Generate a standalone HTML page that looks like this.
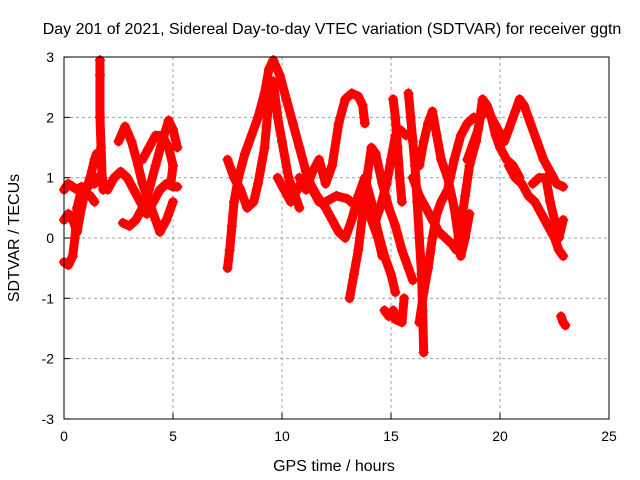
<!DOCTYPE html>
<html><head><meta charset="utf-8"><style>
body{margin:0;background:#fff;}
svg{display:block;font-family:"Liberation Sans",sans-serif;}
</style></head><body>
<svg id="chart" width="640" height="480" viewBox="0 0 640 480">
<text x="332" y="34" font-size="16" text-anchor="middle">Day 201 of 2021, Sidereal Day-to-day VTEC variation (SDTVAR) for receiver ggtn</text>
<text x="334" y="471" font-size="16" text-anchor="middle">GPS time / hours</text>
<text transform="translate(19,238) rotate(-90)" font-size="16" text-anchor="middle">SDTVAR / TECUs</text>
<g id="grid"></g><g id="ticks"></g><g id="marks"></g>
<rect x="64" y="57" width="545" height="362" fill="none" stroke="#000" stroke-width="1"/>
</svg>
<script>
const xTicks=[0,5,10,15,20,25];
const yTicks=[-3,-2,-1,0,1,2,3];
const traces=[
[[0,-0.4],[0.2,-0.45],[0.4,-0.3],[0.5,0],[0.6,0.5],[0.8,0.8],[1.0,0.8],[1.2,0.9],[1.4,0.9],[1.5,1.0]],
[[0,0.3],[0.2,0.4],[0.4,0.3],[0.6,0.1],[0.8,0.5],[1.0,0.8],[1.2,1.0],[1.4,1.3],[1.5,1.4]],
[[0,0.8],[0.2,0.9],[0.4,0.85],[0.6,0.8],[0.8,0.85],[1.0,0.75],[1.2,0.7],[1.4,0.6]],
[[1.65,2.95],[1.65,2.7],[1.65,2.0],[1.7,1.5],[1.75,1.0],[1.8,0.8]],
[[1.7,1.0],[2.0,0.8],[2.3,1.0],[2.6,1.1],[2.9,1.0],[3.2,0.8],[3.5,0.6],[3.8,0.4],[4.1,0.6],[4.4,0.8],[4.7,0.9],[5.0,0.85],[5.2,0.85]],
[[2.5,1.6],[2.8,1.85],[3.1,1.6],[3.4,1.2],[3.6,0.9],[3.9,0.6],[4.2,0.3],[4.4,0.1],[4.7,0.3],[5.0,0.6]],
[[2.7,0.25],[3.0,0.2],[3.3,0.3],[3.6,0.5],[3.9,0.8],[4.2,1.2],[4.5,1.6],[4.8,1.95],[5.0,1.8],[5.2,1.5]],
[[3.6,1.3],[3.9,1.5],[4.2,1.7],[4.5,1.7],[4.8,1.5],[5.0,1.2],[4.9,0.9]],
[[7.5,-0.5],[7.6,-0.2],[7.7,0.2],[7.8,0.6],[8.0,1.0],[8.3,1.4],[8.6,1.7],[8.9,2.0],[9.2,2.4],[9.4,2.8],[9.6,2.95],[9.9,2.7],[10.2,2.3],[10.5,1.9],[10.8,1.5],[11.1,1.1],[11.4,0.8],[11.7,0.6]],
[[7.5,1.3],[7.8,1.0],[8.1,0.8],[8.4,0.5],[8.7,0.6],[8.9,0.9],[9.2,1.5],[9.4,2.3],[9.6,2.6],[9.8,2.0],[10.0,1.6],[10.3,1.0],[10.6,0.7],[10.8,0.5]],
[[10.8,1.0],[11.1,0.8],[11.4,1.1],[11.7,1.3],[12.0,0.9],[12.3,1.2],[12.6,1.9],[12.9,2.3],[13.2,2.4],[13.5,2.35],[13.7,2.2],[13.8,1.9]],
[[9.8,1.0],[10.1,0.8],[10.4,0.6],[10.7,0.8],[11.0,1.0],[11.3,0.9],[11.6,0.7],[12.0,0.5],[12.3,0.3],[12.6,0.1],[12.9,0.0],[13.2,0.3],[13.5,0.7],[13.8,1.0],[14.1,0.6],[14.4,0.1],[14.7,-0.3],[15.0,-0.6],[15.2,-0.9]],
[[13.1,-1.0],[13.3,-0.6],[13.5,-0.2],[13.7,0.4],[13.9,1.0],[14.1,1.5],[14.3,1.4],[14.6,0.9],[14.9,0.5],[15.2,0.2],[15.5,-0.2],[15.8,-0.5],[16.0,-0.7]],
[[14.3,0.3],[14.5,0.5],[14.8,0.9],[15.0,1.3],[15.2,1.7],[15.4,1.8],[15.7,1.7]],
[[12.0,0.6],[12.5,0.7],[13.0,0.65],[13.5,0.5],[14.0,0.4],[14.4,0.0],[14.6,-0.3]],
[[14.7,-1.2],[14.9,-1.3],[15.1,-1.2],[15.2,-1.35],[15.5,-1.4],[15.6,-1.0]],
[[15.1,2.3],[15.2,2.0],[15.3,1.5],[15.4,1.0],[15.5,0.6]],
[[15.8,2.4],[15.9,2.0],[16.0,1.6],[16.1,1.2],[16.2,0.6],[16.3,0.0],[16.4,-0.6],[16.45,-1.2],[16.5,-1.9]],
[[16.3,-1.4],[16.5,-0.9],[16.7,-0.5],[16.9,0.0],[17.1,0.4],[17.3,0.6],[17.6,0.8],[17.9,1.3],[18.2,1.7],[18.5,1.9],[18.8,2.0]],
[[16.3,1.2],[16.5,1.6],[16.7,1.9],[16.9,2.1],[17.1,1.7],[17.3,1.3],[17.6,1.0],[17.9,0.5],[18.1,0.0],[18.2,-0.3],[18.4,0.0],[18.6,0.4]],
[[16.0,1.0],[16.3,0.7],[16.6,0.5],[16.9,0.3],[17.2,0.1],[17.5,0.0],[17.8,-0.1],[18.0,-0.2],[18.2,0.2],[18.4,0.7],[18.6,1.2],[18.9,1.6],[19.1,2.0],[19.4,2.2],[19.6,2.0],[19.8,1.7],[20.0,1.5],[20.3,1.3],[20.6,1.2],[20.9,1.0]],
[[18.5,1.3],[18.8,1.6],[19.0,1.8],[19.2,2.3],[19.4,2.2],[19.6,2.0],[19.9,1.8],[20.2,1.6],[20.4,1.8],[20.7,2.1],[20.9,2.3],[21.1,2.2],[21.4,1.9],[21.7,1.6],[22.0,1.3],[22.3,1.1],[22.6,0.9],[22.9,0.85]],
[[20.4,1.2],[20.7,1.0],[21.0,0.9],[21.3,0.7],[21.6,0.6],[21.9,0.4],[22.2,0.2],[22.5,0.0],[22.7,-0.2],[22.9,-0.3]],
[[21.5,0.9],[21.8,1.0],[22.1,1.0],[22.3,0.6],[22.5,0.3],[22.7,0.0],[22.9,0.3]],
[[22.8,-1.3],[22.9,-1.4],[23.0,-1.45]]
];
const NS="http://www.w3.org/2000/svg";
const X=h=>64+h*21.8;
const Y=v=>238-v*60.3;
function mk(tag,attrs,parent){const e=document.createElementNS(NS,tag);for(const k in attrs)e.setAttribute(k,attrs[k]);parent.appendChild(e);return e;}
const grid=document.getElementById('grid'),ticks=document.getElementById('ticks'),marks=document.getElementById('marks');
xTicks.forEach(t=>{
  if(t>0&&t<25){const g=mk('line',{x1:X(t),x2:X(t),y1:57,y2:419,stroke:'#a0a0a0','stroke-dasharray':'3,3'},grid);
  
  }
  const tk=mk('line',{x1:X(t),x2:X(t),y1:419,y2:413,stroke:'#000'},ticks);
  
  
  const l=mk('text',{x:X(t),y:441,'font-size':14,'text-anchor':'middle'},ticks);l.textContent=t;
  
  
});
yTicks.forEach(t=>{
  if(t>-3&&t<3){const g=mk('line',{x1:64,x2:609,y1:Y(t),y2:Y(t),stroke:'#a0a0a0','stroke-dasharray':'3,3'},grid);
  
  }
  const tk=mk('line',{x1:64,x2:70,y1:Y(t),y2:Y(t),stroke:'#000'},ticks);
  
  
  const l=mk('text',{x:54,y:Y(t)+5,'font-size':14,'text-anchor':'end'},ticks);l.textContent=t;
  
  
});
traces.forEach((tr,i)=>{
  const pl=mk('polyline',{points:tr.map(p=>X(p[0])+','+Y(p[1])).join(' '),fill:'none',stroke:'#f00','stroke-width':9,'stroke-linejoin':'round','stroke-linecap':'round'},marks);
  
  
  tr.forEach(p=>{
    const x=X(p[0]),y=Y(p[1]);
    const m=mk('path',{d:`M${x-5},${y}H${x+5}M${x},${y-5}V${y+5}`,stroke:'#f00','stroke-width':1.5},marks);
    
    
  });
});
</script>
</body></html>
